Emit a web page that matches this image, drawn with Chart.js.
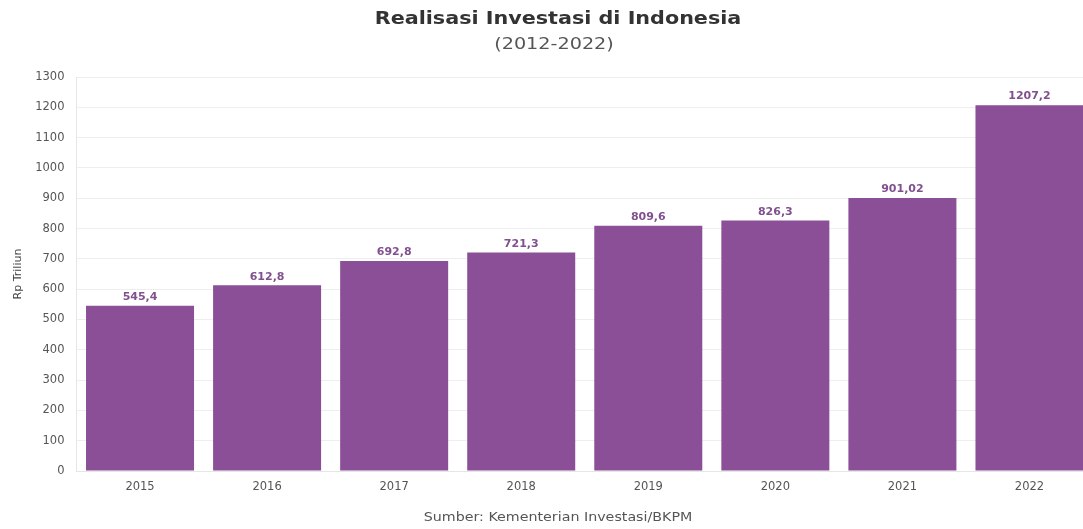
<!DOCTYPE html>
<html lang="id">
<head>
<meta charset="utf-8">
<title>Realisasi Investasi di Indonesia</title>
<script src="https://cdn.jsdelivr.net/npm/chart.js@4"></script>
<style>
  html, body { margin: 0; padding: 0; background: #fff; overflow: hidden; }
  .wrap { width: 1116px; height: 529px; }
</style>
</head>
<body>
<div class="wrap">
  <canvas id="chart-area"></canvas>
</div>

<script>
  // data
  var years = ['2015', '2016', '2017', '2018', '2019', '2020', '2021', '2022'];
  var investasi = [545.4, 612.8, 692.8, 721.3, 809.6, 826.3, 901.02, 1207.2];

  var judul = 'Realisasi Investasi di Indonesia';
  var periode = '(2012-2022)';
  var sumberTeks = 'Sumber: Kementerian Investasi/BKPM';

  var ungu = '#8a4f97';
  var huruf = '"DejaVu Sans", sans-serif';

  // teks yang agak melebar seperti gambar aslinya
  function teksLebar(ctx, txt, x, y, sx) {
    ctx.save();
    ctx.translate(x, y);
    ctx.scale(sx, 1);
    ctx.fillText(txt, 0, 0);
    ctx.restore();
  }

  // label nilai di atas batang
  var valueLabels = {
    id: 'valueLabels',
    afterDatasetsDraw: function(chart) {
      var ctx = chart.ctx;
      var meta = chart.getDatasetMeta(0);
      ctx.save();
      ctx.font = 'bold 11px ' + huruf;
      ctx.fillStyle = '#80508f';
      ctx.textAlign = 'center';
      ctx.textBaseline = 'bottom';
      meta.data.forEach(function(bar, i) {
        var txt = String(investasi[i]).replace('.', ',');
        ctx.fillText(txt, bar.x, bar.y - 3);
      });
      ctx.restore();
    }
  };

  // judul, periode, dan sumber
  var teksTambahan = {
    id: 'teksTambahan',
    afterDraw: function(chart) {
      var ctx = chart.ctx;
      var tengah = chart.width / 2;
      ctx.save();
      ctx.textAlign = 'center';
      ctx.textBaseline = 'middle';

      ctx.font = 'bold 18px ' + huruf;
      ctx.fillStyle = '#333';
      teksLebar(ctx, judul, tengah, 19, 1.15);

      ctx.font = '16px ' + huruf;
      ctx.fillStyle = '#555';
      teksLebar(ctx, periode, tengah - 4, 45, 1.2);

      ctx.font = '12.5px ' + huruf;
      ctx.fillStyle = '#555';
      teksLebar(ctx, sumberTeks, tengah, 518, 1.14);
      ctx.restore();
    }
  };

  var config = {
    type: 'bar',
    data: {
      labels: years,
      datasets: [{
        label: 'Realisasi Investasi',
        data: investasi,
        backgroundColor: ungu,
        barPercentage: 0.85,
        categoryPercentage: 1.0
      }]
    },
    options: {
      responsive: true,
      maintainAspectRatio: false,
      animation: false,
      layout: { padding: { left: 0, right: 23, top: 77, bottom: 28 } },
      plugins: {
        legend: { display: false },
        tooltip: { enabled: false }
      },
      scales: {
        x: {
          grid: { display: false },
          border: { color: '#e6e6e6' },
          ticks: { color: '#555', font: { family: huruf, size: 11.5 }, padding: 1 },
          afterFit: function(scale) { scale.height = 30; }
        },
        y: {
          min: 0,
          max: 1300,
          ticks: {
            stepSize: 100,
            color: '#555',
            font: { family: huruf, size: 11.5 },
            padding: 12,
            callback: function(v) { return String(v); }
          },
          grid: { color: '#eeeeee', drawTicks: false },
          border: { color: '#e6e6e6' },
          title: {
            display: true,
            text: 'Rp Triliun',
            color: '#444',
            font: { family: huruf, size: 11 },
            padding: { top: 12, bottom: 6 }
          },
          afterFit: function(scale) { scale.width = 76.5; }
        }
      }
    },
    plugins: [valueLabels, teksTambahan]
  };

  window.onload = function() {
    var ctx = document.getElementById('chart-area').getContext('2d');
    window.myBar = new Chart(ctx, config);
  };
</script>
</body>
</html>
